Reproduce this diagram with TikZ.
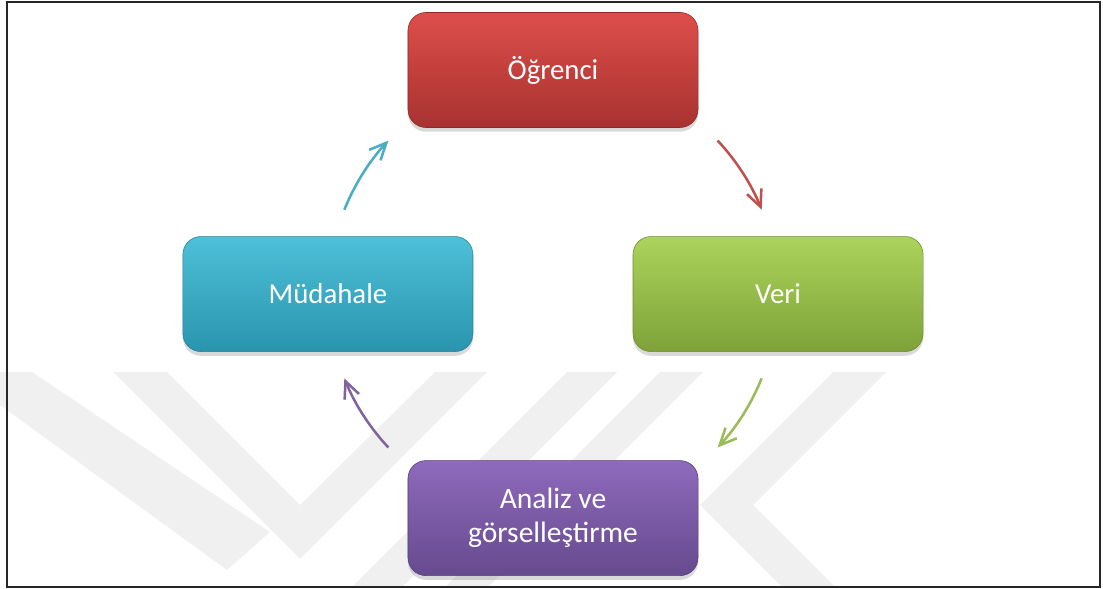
\documentclass[tikz,border=0pt]{standalone}
\usepackage{fontspec}
\setmainfont{Carlito}
\usetikzlibrary{arrows.meta,positioning,shadows}

\definecolor{redtop}{RGB}{221,78,74}
\definecolor{redbot}{RGB}{168,50,48}
\definecolor{greentop}{RGB}{172,211,92}
\definecolor{greenbot}{RGB}{126,162,56}
\definecolor{tealtop}{RGB}{78,192,216}
\definecolor{tealbot}{RGB}{42,148,174}
\definecolor{purptop}{RGB}{142,106,188}
\definecolor{purpbot}{RGB}{102,74,142}
\definecolor{redline}{RGB}{192,80,77}
\definecolor{greenline}{RGB}{155,187,89}
\definecolor{tealline}{RGB}{75,172,198}
\definecolor{purpline}{RGB}{128,100,162}
\definecolor{wmark}{RGB}{240,240,240}

\begin{document}
\begin{tikzpicture}[x=0.025cm, y=0.025cm, node distance=5.6cm and 5.625cm, on grid,
  box/.style={rectangle, rounded corners=0.45cm, minimum width=7.25cm, minimum height=2.875cm,
    text=white, align=center, font=\fontsize{20.5}{24}\selectfont,
    drop shadow={shadow xshift=0pt, shadow yshift=-3pt, opacity=0.3}},
  redbox/.style={box, top color=redtop, bottom color=redbot, draw=redbot!85!black},
  greenbox/.style={box, top color=greentop, bottom color=greenbot, draw=greenbot!85!black},
  tealbox/.style={box, top color=tealtop, bottom color=tealbot, draw=tealbot!85!black},
  purpbox/.style={box, top color=purptop, bottom color=purpbot, draw=purpbot!85!black},
  cycarrow/.style={line width=1.8pt, -{Straight Barb[length=12pt, width=11pt]}}]
  \useasboundingbox (0,0) rectangle (1103,589);

  % watermark
  \begin{scope}[shift={(0,589)}, yscale=-1, wmark]
    \fill (0,372) -- (32,372) -- (270,532) -- (227,570) -- (0,405) -- cycle;
    \fill (113,372) -- (167,372) -- (300,505) -- (435,372) -- (487,372) -- (300,559) -- cycle;
    \fill (567,372) -- (617,372) -- (402,587) -- (352,587) -- cycle;
    \fill (660,372) -- (703,372) -- (488,587) -- (445,587) -- cycle;
    \fill (833,372) -- (886,372) -- (753,505) -- (835,587) -- (782,587) -- (700,505) -- cycle;
  \end{scope}

  % frame
  \draw[line width=1.4pt, black!85] (7,2) rectangle (1100,587);

  % nodes
  \node[redbox] (ogrenci) at (553,519) {Öğrenci};
  \node[greenbox, below right=of ogrenci] (veri) {Veri};
  \node[tealbox, below left=of ogrenci] (mudahale) {Müdahale};
  \node[purpbox, below=11.2cm of ogrenci, font=\fontsize{21}{24}\selectfont] (analiz) {Analiz ve\\görselleştirme};

  % arrows
  \path (mudahale) -- coordinate[midway] (cyc) (veri);
  \draw[cycarrow, redline] ([shift={(43:5.625cm)}]cyc) arc[start angle=43, end angle=22, radius=5.625cm];
  \draw[cycarrow, greenline] ([shift={(-22:5.625cm)}]cyc) arc[start angle=-22, end angle=-43, radius=5.625cm];
  \draw[cycarrow, purpline] ([shift={(223:5.625cm)}]cyc) arc[start angle=223, end angle=202, radius=5.625cm];
  \draw[cycarrow, tealline] ([shift={(158:5.625cm)}]cyc) arc[start angle=158, end angle=137, radius=5.625cm];
\end{tikzpicture}
\end{document}
